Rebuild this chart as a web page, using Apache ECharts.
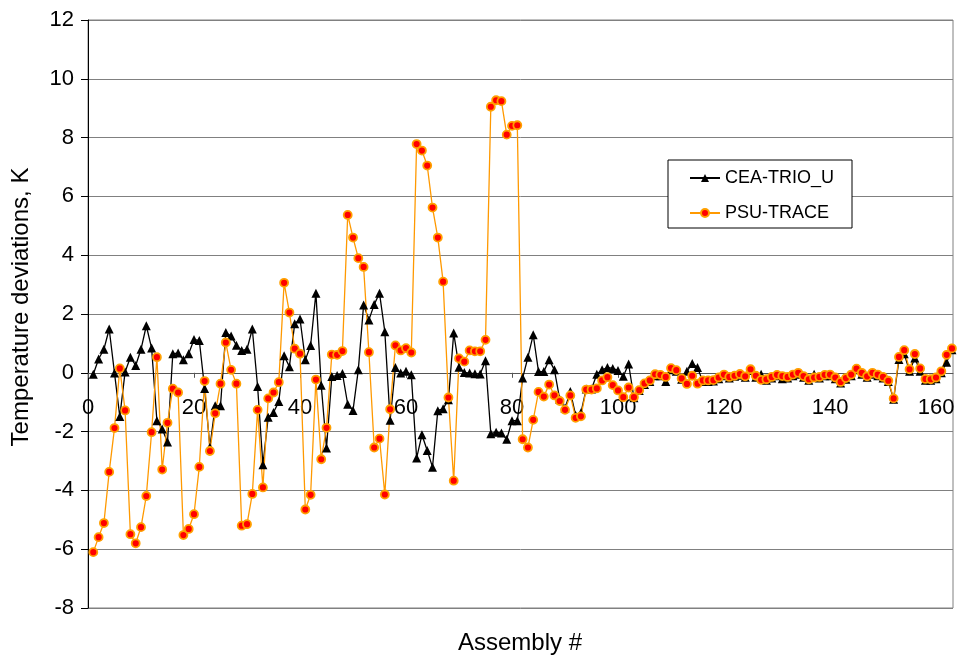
<!DOCTYPE html>
<html>
<head>
<meta charset="utf-8">
<script src="https://cdn.jsdelivr.net/npm/echarts@6/dist/echarts.min.js"></script>
<style>
  html, body { margin: 0; padding: 0; background: #fff; }
  #chart { width: 960px; height: 659px; }
</style>
</head>
<body>
<div id="chart"></div>
<script>
// Temperature deviations per fuel assembly (1..163), two codes
const seriesNames = ['CEA-TRIO_U', 'PSU-TRACE'];
const xTicks = [0, 20, 40, 60, 80, 100, 120, 140, 160];
const yTicks = [-8, -6, -4, -2, 0, 2, 4, 6, 8, 10, 12];
const xTitle = 'Assembly #';
const yTitle = 'Temperature deviations, K';

const ceaTrio = [
  -0.05, 0.47, 0.80, 1.49, -0.01, -1.49, 0.03, 0.53, 0.25, 0.80,
  1.60, 0.84, -1.63, -1.91, -2.35, 0.65, 0.67, 0.44, 0.65, 1.13,
  1.10, -0.53, -2.53, -1.12, -1.12, 1.37, 1.25, 0.94, 0.76, 0.80,
  1.49, -0.47, -3.13, -1.51, -1.35, -0.98, 0.58, 0.21, 1.67, 1.83,
  0.44, 0.93, 2.71, -0.42, -2.56, -0.13, -0.09, -0.02, -1.07, -1.28,
  0.10, 2.31, 1.80, 2.32, 2.71, 1.40, -1.61, 0.18, -0.01, 0.05,
  -0.07, -2.90, -2.11, -2.64, -3.21, -1.29, -1.22, -0.92, 1.35, 0.19,
  0.01, -0.01, -0.03, -0.04, 0.41, -2.07, -2.02, -2.05, -2.26, -1.63,
  -1.63, -0.18, 0.53, 1.29, 0.04, 0.04, 0.44, 0.10, -0.90, -1.20,
  -0.64, -1.44, -1.36, -0.55, -0.55, -0.05, 0.10, 0.18, 0.15, 0.08,
  -0.12, 0.30, -0.85, -0.60, -0.40, -0.30, -0.10, -0.10, -0.30, 0.10,
  0.05, -0.22, 0.05, 0.32, 0.18, -0.30, -0.30, -0.28, -0.20, -0.10,
  -0.18, -0.12, -0.08, -0.15, 0.08, -0.15, -0.05, -0.25, -0.18, -0.10,
  -0.20, -0.18, -0.10, -0.05, -0.15, -0.25, -0.05, -0.18, -0.10, -0.10,
  -0.20, -0.35, -0.22, -0.10, 0.10, -0.05, -0.15, -0.05, -0.10, -0.18,
  -0.30, -0.90, 0.45, 0.65, 0.05, 0.50, 0.05, -0.25, -0.25, -0.20,
  0.00, 0.36, 0.78
];

const psuTrace = [
  -6.10, -5.59, -5.11, -3.37, -1.88, 0.15, -1.28, -5.49, -5.80, -5.25,
  -4.19, -2.02, 0.53, -3.29, -1.70, -0.54, -0.67, -5.52, -5.31, -4.81,
  -3.20, -0.28, -2.66, -1.38, -0.37, 1.03, 0.10, -0.37, -5.20, -5.15,
  -4.12, -1.26, -3.90, -0.87, -0.67, -0.32, 3.06, 2.05, 0.82, 0.65,
  -4.65, -4.15, -0.23, -2.94, -1.87, 0.62, 0.61, 0.74, 5.37, 4.60,
  3.90, 3.60, 0.70, -2.54, -2.24, -4.14, -1.24, 0.93, 0.76, 0.84,
  0.69, 7.78, 7.56, 7.05, 5.62, 4.60, 3.10, -0.84, -3.67, 0.49,
  0.38, 0.76, 0.73, 0.73, 1.12, 9.05, 9.27, 9.24, 8.10, 8.40,
  8.42, -2.26, -2.54, -1.60, -0.65, -0.81, -0.40, -0.77, -0.96, -1.26,
  -0.77, -1.53, -1.48, -0.57, -0.57, -0.53, -0.26, -0.15, -0.42, -0.60,
  -0.83, -0.50, -0.83, -0.59, -0.36, -0.26, -0.05, -0.07, -0.14, 0.16,
  0.09, -0.19, -0.38, -0.10, -0.37, -0.26, -0.26, -0.25, -0.16, -0.06,
  -0.14, -0.10, -0.04, -0.12, 0.12, -0.10, -0.24, -0.22, -0.14, -0.07,
  -0.11, -0.14, -0.06, 0.00, -0.11, -0.22, -0.16, -0.14, -0.07, -0.06,
  -0.16, -0.31, -0.18, -0.06, 0.14, 0.00, -0.12, 0.00, -0.06, -0.14,
  -0.27, -0.87, 0.54, 0.77, 0.12, 0.64, 0.15, -0.21, -0.22, -0.16,
  0.05, 0.61, 0.83
];

// pair each value with its assembly number (1-based)
function toPoints(values) {
  return values.map((v, i) => [i + 1, v]);
}

const FONT = '"Liberation Sans", Arial, sans-serif';

// plot box in pixels; the x axis is drawn across the zero level of y
const GRID = { left: 88, right: 7, top: 20, bottom: 51 };
const plotHeight = 659 - GRID.top - GRID.bottom;
const yMin = yTicks[0], yMax = yTicks[yTicks.length - 1];
const zeroOffset = -plotHeight * (0 - yMin) / (yMax - yMin);

const chart = echarts.init(document.getElementById('chart'), null, { renderer: 'canvas' });

chart.setOption({
  animation: false,
  backgroundColor: '#ffffff',
  textStyle: { fontFamily: FONT, color: '#000' },
  grid: {
    left: GRID.left, right: GRID.right, top: GRID.top, bottom: GRID.bottom,
    containLabel: false,
    outerBoundsMode: 'none',
    show: true, borderColor: '#808080', borderWidth: 1, backgroundColor: 'transparent'
  },
  legend: {
    orient: 'vertical',
    left: 668, top: 160,
    padding: [8, 18, 5, 21],
    itemGap: 15,
    itemWidth: 30, itemHeight: 10,
    backgroundColor: '#ffffff',
    borderColor: '#000000', borderWidth: 1, borderRadius: 0,
    textStyle: { fontFamily: FONT, fontSize: 18, color: '#000', lineHeight: 20 },
    data: seriesNames
  },
  xAxis: {
    type: 'value',
    position: 'bottom',
    offset: zeroOffset,
    min: xTicks[0], max: 163.2, interval: 20,
    axisLine: { onZero: false, lineStyle: { color: '#555555', width: 1 } },
    axisTick: { show: true, length: 5, lineStyle: { color: '#555555' } },
    axisLabel: {
      fontFamily: FONT, fontSize: 22, color: '#000', margin: 24,
      showMaxLabel: false,
      formatter: v => (xTicks.indexOf(v) >= 0 ? String(v) : '')
    },
    splitLine: { show: false }
  },
  yAxis: {
    type: 'value',
    min: yMin, max: yMax, interval: 2,
    axisLine: { show: true, onZero: false, lineStyle: { color: '#000', width: 1 } },
    axisTick: { show: true, length: 7, lineStyle: { color: '#000' } },
    axisLabel: { fontFamily: FONT, fontSize: 22, color: '#000', margin: 14 },
    splitLine: { show: true, lineStyle: { color: '#808080', width: 1 } }
  },
  graphic: [
    {
      type: 'text',
      x: 520, y: 643,
      style: {
        text: xTitle,
        font: '24px ' + FONT,
        fill: '#000',
        textAlign: 'center',
        textVerticalAlign: 'middle'
      }
    },
    {
      type: 'text',
      x: 21, y: 307,
      rotation: Math.PI / 2,
      style: {
        text: yTitle,
        font: '24px ' + FONT,
        fill: '#000',
        textAlign: 'center',
        textVerticalAlign: 'middle'
      }
    }
  ],
  series: [
    {
      name: seriesNames[0],
      type: 'line',
      data: toPoints(ceaTrio),
      showAllSymbol: true,
      symbol: 'triangle',
      symbolSize: 9,
      lineStyle: { color: '#000', width: 1.3 },
      itemStyle: { color: '#000' }
    },
    {
      name: seriesNames[1],
      type: 'line',
      data: toPoints(psuTrace),
      showAllSymbol: true,
      symbol: 'circle',
      symbolSize: 8,
      lineStyle: { color: '#FF9900', width: 1.3 },
      itemStyle: { color: '#FF0000', borderColor: '#FFA000', borderWidth: 1.8 }
    }
  ]
});
</script>
</body>
</html>
